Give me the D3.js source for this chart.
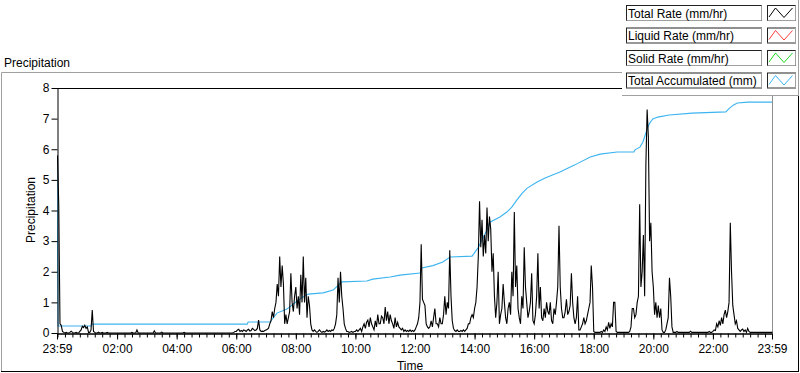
<!DOCTYPE html>
<html>
<head>
<meta charset="utf-8">
<script src="https://cdn.jsdelivr.net/npm/d3@7"></script>
<style>
  body { margin: 0; background: #fff; }
  svg { display: block; font-family: "Liberation Sans", Arial, sans-serif; }
</style>
</head>
<body>
<div id="chart"></div>
<script>
"use strict"

// ---- data ----
// Total Rate (mm/hr), one reading every 2.5 minutes starting at 23:59 (one row per hour)
var rateStep = 2.5;
var rateValues = [
  5.8, 4.2, 0.3, 0.25, 0.05, 0.02, 0, 0.02, 0, 0, 0.02, 0.06, 0.02, 0, 0, 0.02, 0, 0, 0.05, 0.1, 0.22, 0.18, 0.25, 0.15,
  0.2, 0.02, 0.02, 0.1, 0.75, 0.05, 0.02, 0, 0, 0.03, 0, 0, 0.02, 0, 0, 0, 0.02, 0, 0, 0, 0, 0, 0, 0,
  0, 0, 0, 0, 0, 0, 0, 0, 0, 0, 0, 0, 0.02, 0, 0, 0, 0.1, 0, 0, 0, 0, 0, 0, 0,
  0, 0, 0, 0, 0, 0, 0.07, 0, 0, 0, 0, 0, 0.03, 0, 0, 0, 0, 0, 0, 0, 0, 0, 0, 0,
  0, 0, 0, 0, 0, 0, 0.02, 0, 0, 0, 0, 0, 0, 0, 0, 0, 0, 0, 0, 0, 0, 0, 0, 0,
  0, 0, 0, 0, 0, 0, 0, 0, 0, 0, 0, 0, 0, 0, 0, 0, 0, 0, 0, 0, 0, 0, 0.02, 0.05,
  0.05, 0.1, 0.12, 0.05, 0.08, 0.05, 0.1, 0.08, 0.05, 0.1, 0.12, 0.06, 0.08, 0.15, 0.12, 0.08, 0.1, 0.15, 0.42, 0.1, 0.05, 0.06, 0.05, 0.08,
  0.1, 0.12, 0.16, 0.3, 0.4, 0.7, 0.5, 0.8, 1.0, 1.6, 1.2, 2.5, 1.5, 2.2, 1.6, 0.3, 0.6, 0.3, 0.5, 0.7, 1.95, 1.0, 0.7, 1.2,
  1.5, 0.8, 1.2, 0.6, 1.9, 1.0, 2.5, 1.0, 1.8, 0.5, 1.2, 0.9, 0.3, 0.1, 0.05, 0.1, 0.05, 0.02, 0.05, 0.1, 0.05, 0.02, 0.05, 0.03,
  0.05, 0.1, 0.05, 0.08, 0.05, 0.1, 0.08, 0.15, 0.3, 0.6, 1.8, 1.0, 2.0, 1.2, 0.8, 0.3, 0.15, 0.05, 0.05, 0.02, 0.03, 0.05, 0.02, 0.05,
  0.05, 0.1, 0.05, 0.1, 0.15, 0.05, 0.2, 0.3, 0.15, 0.35, 0.42, 0.2, 0.5, 0.3, 0.2, 0.1, 0.4, 0.2, 0.6, 0.3, 0.3, 0.55, 0.5, 0.3,
  0.85, 0.4, 0.7, 0.3, 0.6, 0.4, 0.3, 0.15, 0.5, 0.2, 0.35, 0.2, 0.15, 0.1, 0.15, 0.05, 0.1, 0.05, 0.08, 0.05, 0.1, 0.05, 0.08, 0.05,
  0.1, 0.2, 0.3, 0.5, 1.0, 2.9, 1.1, 1.0, 0.9, 0.3, 0.2, 0.15, 0.2, 0.4, 0.2, 0.5, 0.8, 0.3, 0.3, 0.2, 0.5, 0.3, 0.3, 0.6,
  1.2, 0.6, 1.0, 0.8, 2.7, 1.2, 0.4, 0.15, 0.08, 0.05, 0.1, 0.05, 0.05, 0.08, 0.05, 0.1, 0.05, 0.1, 0.15, 0.3, 0.3, 0.5, 0.6, 0.5,
  0.8, 1.0, 1.5, 2.5, 4.3, 2.8, 3.7, 2.5, 3.2, 2.6, 4.1, 3.0, 3.8, 3.4, 2.0, 2.6, 1.2, 0.5, 1.0, 2.0, 0.3, 0.6, 0.8, 1.6,
  1.0, 0.5, 0.3, 0.8, 1.0, 0.6, 2.0, 1.2, 3.95, 1.5, 2.2, 0.8, 0.5, 0.3, 1.2, 0.8, 2.8, 1.5, 1.0, 0.5, 0.7, 1.0, 1.95, 0.4,
  0.3, 0.6, 1.2, 2.6, 0.8, 1.5, 0.5, 0.4, 0.8, 0.5, 1.0, 0.7, 0.6, 1.0, 0.4, 0.3, 0.8, 0.6, 1.0, 1.5, 3.5, 1.5, 0.8, 0.5,
  0.5, 0.7, 1.1, 0.6, 0.7, 0.9, 1.95, 1.0, 0.5, 0.3, 0.5, 1.2, 0.1, 0.1, 0.2, 0.3, 0.5, 0.3, 0.4, 0.6, 0.8, 1.0, 2.2, 1.5,
  0.05, 0.02, 0.02, 0.02, 0.02, 0.02, 0.05, 0.02, 0.1, 0.05, 0.2, 0.1, 0.35, 0.15, 0.3, 0.2, 1.0, 1.0, 0.05, 0.02, 0.02, 0.02, 0.02, 0.02,
  0.02, 0.02, 0.02, 0.02, 0.02, 0.05, 0.2, 0.8, 0.8, 0.5, 0.6, 1.0, 1.2, 4.2, 1.5, 2.0, 3.2, 1.2, 5.5, 7.3, 6.4, 3.0, 3.6, 2.0,
  1.5, 0.6, 1.0, 0.5, 0.9, 0.5, 0.8, 0.1, 0.02, 0.02, 0.1, 0.3, 0.5, 1.8, 1.2, 0.2, 0.02, 0.02, 0.02, 0.05, 0.02, 0.02, 0.02, 0.02,
  0.02, 0.02, 0.02, 0.02, 0.02, 0.02, 0.06, 0.02, 0.02, 0.02, 0.02, 0.02, 0.02, 0.02, 0.02, 0.02, 0.02, 0.02, 0.02, 0.02, 0.02, 0.05, 0.02, 0.02,
  0.05, 0.1, 0.08, 0.3, 0.2, 0.4, 0.25, 0.5, 0.3, 0.6, 0.75, 0.5, 0.7, 1.0, 3.6, 2.0, 0.9, 0.6, 0.3, 0.4, 0.15, 0.1, 0.05, 0.1,
  0.13, 0.05, 0.1, 0.02, 0.15, 0.05, 0.02, 0.02, 0.02, 0.02, 0.02, 0.02, 0.02, 0.02, 0.02, 0.02, 0.02, 0.02, 0.02, 0.02, 0.02, 0.02, 0.02, 0.02,
  0.02
];

// Total Accumulated (mm): minutes after 23:59 and value
var accTimes = [0, 2, 68, 70, 383, 385, 429, 443, 463, 489, 506, 536, 556, 574, 624, 636,
  671, 691, 731, 735, 757, 777, 792, 836, 848, 856, 866, 872, 892, 906, 916, 926,
  937, 947, 967, 983, 1013, 1043, 1074, 1094, 1128, 1162, 1164, 1174, 1180, 1186,
  1190, 1194, 1200, 1210, 1233, 1279, 1347, 1355, 1362, 1370, 1392, 1440];
var accValues = [5.7, 0.23, 0.23, 0.29, 0.29, 0.36, 0.36, 0.65, 0.78, 1.11, 1.27, 1.31, 1.40, 1.67, 1.70, 1.76,
  1.83, 1.89, 1.96, 2.12, 2.2, 2.32, 2.48, 2.51, 2.78, 3.04, 3.36, 3.62, 3.79, 3.95, 4.11, 4.34,
  4.57, 4.73, 4.93, 5.06, 5.26, 5.49, 5.75, 5.84, 5.91, 5.91, 5.98, 6.07, 6.24, 6.53,
  6.73, 6.86, 6.99, 7.05, 7.12, 7.18, 7.22, 7.35, 7.44, 7.51, 7.54, 7.54];

var legendNames = ["Total Rate (mm/hr)", "Liquid Rate (mm/hr)", "Solid Rate (mm/hr)", "Total Accumulated (mm)"];
var legendColors = ["#000000", "#ff3c3c", "#22dd22", "#3cb4f0"];

var yTicks = [0, 1, 2, 3, 4, 5, 6, 7, 8];
var timeTicks = [0, 121, 241, 361, 481, 601, 721, 841, 961, 1081, 1201, 1321, 1440];
var timeLabels = ["23:59", "02:00", "04:00", "06:00", "08:00", "10:00", "12:00",
  "14:00", "16:00", "18:00", "20:00", "22:00", "23:59"];

// ---- layout ----
var width = 800, height = 373;
var plotLeft = 57, plotRight = 772, plotTop = 88, plotBottom = 333;

var svg = d3.select("#chart").append("svg")
  .attr("width", width)
  .attr("height", height);

var x = d3.scaleLinear().domain([0, 1440]).range([plotLeft, plotRight]);
var y = d3.scaleLinear().domain([0, 8]).range([plotBottom, plotTop]);

// outer frame
svg.append("line").attr("x1", 1.5).attr("y1", 72.5).attr("x2", 798).attr("y2", 72.5)
  .attr("stroke", "#a0a0a0");
svg.append("line").attr("x1", 1.5).attr("y1", 72.5).attr("x2", 1.5).attr("y2", 371.5)
  .attr("stroke", "#a0a0a0");
svg.append("line").attr("x1", 1).attr("y1", 371.5).attr("x2", 799).attr("y2", 371.5)
  .attr("stroke", "#000");
svg.append("line").attr("x1", 798.5).attr("y1", 72).attr("x2", 798.5).attr("y2", 372)
  .attr("stroke", "#000");

svg.append("text")
  .attr("x", 4).attr("y", 67)
  .style("font-size", "12px")
  .text("Precipitation");

// plot box
svg.append("line").attr("x1", plotLeft).attr("y1", plotTop + 0.5).attr("x2", plotRight).attr("y2", plotTop + 0.5)
  .attr("stroke", "#000");
svg.append("line").attr("x1", plotRight + 0.5).attr("y1", plotTop).attr("x2", plotRight + 0.5).attr("y2", plotBottom)
  .attr("stroke", "#909090");

svg.append("clipPath").attr("id", "plotclip")
  .append("rect")
  .attr("x", plotLeft).attr("y", plotTop)
  .attr("width", plotRight - plotLeft + 1).attr("height", plotBottom - plotTop + 1);

var plot = svg.append("g").attr("clip-path", "url(#plotclip)");

var accLine = d3.line()
  .x(function(d, i){ return x(accTimes[i]); })
  .y(function(d){ return y(d); });

plot.append("path")
  .datum(accValues)
  .attr("d", accLine)
  .attr("fill", "none")
  .attr("stroke", legendColors[3])
  .attr("stroke-width", 1.1);

var rateLine = d3.line()
  .x(function(d, i){ return x(i * rateStep) + 0.5; })
  .y(function(d){ return y(d); });

plot.append("path")
  .datum(rateValues)
  .attr("d", rateLine)
  .attr("fill", "none")
  .attr("stroke", legendColors[0])
  .attr("stroke-width", 1.1);

// axes
var yAxis = d3.axisLeft(y)
  .tickValues(yTicks)
  .tickSize(6)
  .tickPadding(2)
  .tickSizeOuter(0);

svg.append("g")
  .attr("transform", "translate(" + (plotLeft + 0.5) + ",0)")
  .call(yAxis);

var minorTicks = d3.range(1, 1440, 15);

var xMinor = d3.axisBottom(x)
  .tickValues(minorTicks)
  .tickSize(4)
  .tickFormat("")
  .tickSizeOuter(0);

svg.append("g")
  .attr("transform", "translate(0," + (plotBottom + 0.5) + ")")
  .call(xMinor);

var xMajor = d3.axisBottom(x)
  .tickValues(timeTicks)
  .tickSize(6)
  .tickPadding(5)
  .tickSizeOuter(0)
  .tickFormat(function(d, i){ return timeLabels[i]; });

svg.append("g")
  .attr("transform", "translate(0," + (plotBottom + 0.5) + ")")
  .call(xMajor);

svg.selectAll(".tick text")
  .style("font-size", "12px")
  .style("font-family", "'Liberation Sans', Arial, sans-serif")
  .attr("fill", "#000");
svg.selectAll(".domain").attr("stroke", "#000");

svg.append("text")
  .attr("transform", "translate(35,210) rotate(-90)")
  .attr("text-anchor", "middle")
  .style("font-size", "12px")
  .text("Precipitation");

svg.append("text")
  .attr("x", 410).attr("y", 370)
  .attr("text-anchor", "middle")
  .style("font-size", "12px")
  .text("Time");

// legend
var legend = svg.append("g");
legend.append("rect")
  .attr("x", 622).attr("y", 0).attr("width", 178).attr("height", 95.5)
  .attr("fill", "#fff");
legend.append("line").attr("x1", 622).attr("y1", 95.5).attr("x2", 799).attr("y2", 95.5)
  .attr("stroke", "#a0a0a0");
legend.append("line").attr("x1", 798.5).attr("y1", 0).attr("x2", 798.5).attr("y2", 96)
  .attr("stroke", "#a0a0a0");

var rows = legend.selectAll("g.row")
  .data(legendNames)
  .enter().append("g")
  .attr("class", "row")
  .attr("transform", function(d, i){ return "translate(0," + (5 + i * 22.5) + ")"; });

rows.append("rect")
  .attr("x", 626.5).attr("y", 0.5).attr("width", 135).attr("height", 15)
  .attr("fill", "#fff").attr("stroke", "#222");
rows.append("path")
  .attr("d", "M761.5,0.5V15.5H626.5")
  .attr("fill", "none").attr("stroke", "#a0a0a0");
rows.append("text")
  .attr("x", 628).attr("y", 12.5)
  .style("font-size", "12px")
  .text(function(d){ return d; });

rows.append("rect")
  .attr("x", 767.5).attr("y", 0.5).attr("width", 28).attr("height", 15)
  .attr("fill", "#fff").attr("stroke", "#222");
rows.append("path")
  .attr("d", "M795.5,0.5V15.5H767.5")
  .attr("fill", "none").attr("stroke", "#a0a0a0");
rows.append("path")
  .attr("d", "M769,12L775.5,3L784,12.5L792.5,3")
  .attr("fill", "none")
  .attr("stroke", function(d, i){ return legendColors[i]; });
</script>
</body>
</html>
